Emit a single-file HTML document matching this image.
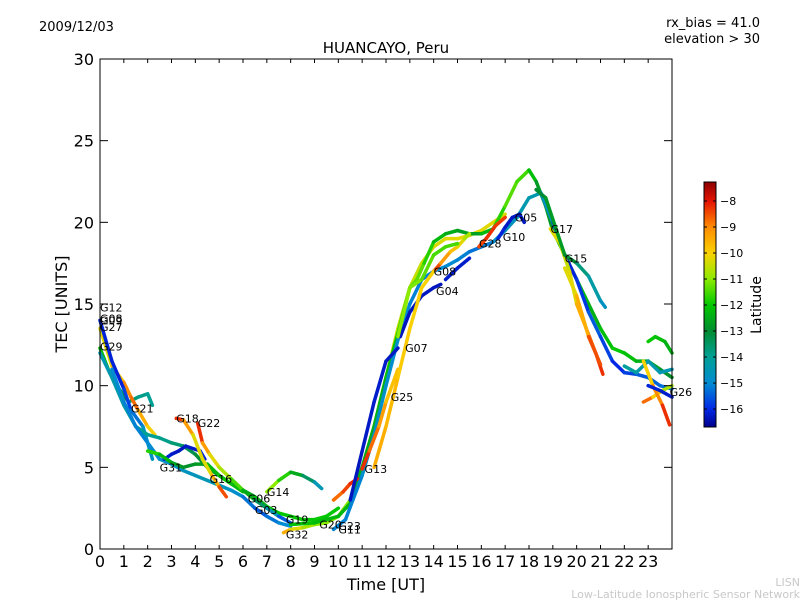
<!DOCTYPE html>
<html><head><meta charset="utf-8"><style>
body{margin:0;background:#fff;}
svg{display:block;font-family:"DejaVu Sans","Liberation Sans",sans-serif;}
</style></head><body>
<svg id="chart" width="800" height="600" viewBox="0 0 800 600" xmlns="http://www.w3.org/2000/svg">
<rect width="800" height="600" fill="#fff"/>
<text x="39" y="31" font-size="13">2009/12/03</text>
<text x="760" y="27" font-size="13" text-anchor="end">rx_bias = 41.0</text>
<text x="760" y="43" font-size="13" text-anchor="end">elevation &gt; 30</text>
<text x="386" y="53" font-size="15" text-anchor="middle">HUANCAYO, Peru</text>
<text x="386" y="590" font-size="16" text-anchor="middle">Time [UT]</text>
<text x="67" y="304" font-size="16" text-anchor="middle" transform="rotate(-90 67 304)">TEC [UNITS]</text>
<text x="800" y="586" font-size="11" fill="#c8c8c8" text-anchor="end">LISN</text>
<text x="800" y="598" font-size="11" fill="#c8c8c8" text-anchor="end">Low-Latitude Ionospheric Sensor Network</text>
<g id="marks"></g>
<g id="axes"></g>
<g id="cbar"></g>
</svg>
<script>
const xTicks=[0,1,2,3,4,5,6,7,8,9,10,11,12,13,14,15,16,17,18,19,20,21,22,23];
const yTicks=[0,5,10,15,20,25,30];
const cbTicks=[-8,-9,-10,-11,-12,-13,-14,-15,-16];
const xMin=0,xMax=24,yMin=0,yMax=30,latMin=-16.69,latMax=-7.27;
const tracks=[
{t:[0,0.4,0.8,1.2,1.6,2.0,2.2],v:[12.3,10.8,9.8,9.0,9.3,9.5,8.8],l:[-12,-12.5,-13,-13.5,-13.8,-14,-14]},
{t:[0,0.5,1,1.3,1.6,2,2.3],v:[13.5,11.2,10.2,9.3,8.5,7.5,7],l:[-10.5,-10,-9.5,-8.5,-9,-10,-10]},
{t:[0,0.5,1,1.3,1.8,2.2],v:[14,11.5,9.8,8.5,7.5,5.5],l:[-16,-16.2,-16,-15.5,-15,-14.5]},
{t:[0,0.5,1,1.5,2,2.5,3,3.5,4,4.5,5,5.5,6,6.5,7,7.5,8,8.5,9,9.5,10],v:[12,10.5,8.8,7.5,7,6.8,6.5,6.3,5.8,5,4.5,4,3.6,3.2,2.6,2.2,2,1.8,1.8,2,2.5],l:[-14.5,-14.5,-14.2,-14,-14,-14,-13.8,-13.5,-13.2,-13,-13,-12.8,-12.5,-12.5,-12.3,-12,-12,-12,-12,-12,-12]},
{t:[0.5,1,1.5,2,2.5,3,3.5,4,4.5,5,5.5,6,6.5,7,7.5,8],v:[11,9,7.5,6.5,5.5,5.2,4.8,4.5,4.2,3.9,3.6,3.2,2.5,2,1.6,1.4],l:[-15,-15,-15.2,-15,-15,-14.8,-14.8,-14.5,-14.5,-14.5,-14.8,-15,-15.5,-15.5,-15,-15]},
{t:[2.7,3,3.3,3.6,4.2,4.4],v:[5.5,5.8,6,6.3,6,5.5],l:[-16,-16.2,-16.3,-16.3,-16.2,-16]},
{t:[2,2.5,3,3.5,4,4.5,5,5.5,6],v:[6,5.8,5.3,5,5.2,5.2,4.5,4,3.5],l:[-11.5,-12,-12.5,-12.8,-13,-12.5,-12,-12,-12.5]},
{t:[3.2,3.5,3.9,4.3,4.7,5,5.3],v:[8,7.9,7,5.5,4.5,3.8,3.2],l:[-8,-8.5,-10,-10.5,-10,-9,-8]},
{t:[4.1,4.3,4.6,5,5.5,6,6.5,7,7.5,8],v:[7.7,6.5,5.8,5,4.3,3.6,3,2.5,2,1.6],l:[-8,-8.5,-10,-10.5,-11,-12,-13,-14,-15,-16]},
{t:[7,7.5,8,8.5,9,9.3],v:[3.5,4.2,4.7,4.5,4.1,3.7],l:[-10.5,-11.5,-12,-13,-14,-15]},
{t:[7.7,8,8.5,9,9.5,10,10.5,11,11.5,12,12.5,13,13.5,14,14.5,15,15.5,16,16.5,17],v:[1,1.2,1.3,1.5,1.6,2,3,5,7.5,10.5,13.5,16,17.5,18.5,19,19,19.2,19.5,20,20.5],l:[-9,-10,-10.5,-11,-11,-11,-11,-10.8,-10.5,-10.5,-10.5,-10.5,-10.5,-10.3,-10.3,-10.2,-10.2,-10.2,-10.3,-10.3]},
{t:[8,9,10,10.5,11,11.5,12,12.5,13,13.3,13.6,14,14.5,15,15.5,16,16.5,17,17.5,18,18.3,18.7,19,19.5,20,20.5,21,21.5,22,22.5,23,23.5,24],v:[1.5,1.6,2,2.8,5,7.5,10.5,13.2,16,16.5,17.5,18.8,19.3,19.5,19.3,19.3,19.6,21,22.5,23.2,22.5,21,19.5,18,16.5,15,13.5,12.3,12,11.5,11.5,11,10.5],l:[-12,-12.2,-12.3,-12.3,-12.5,-12.5,-12.3,-12,-11.5,-11.2,-11.5,-12,-12.5,-12.5,-12.8,-12.5,-12,-11.5,-11.3,-11.8,-12.5,-13,-12.5,-12,-12,-12.5,-12.3,-12,-12,-12.3,-12.5,-12.8,-13]},
{t:[9.8,10.3,11,11.5,12,12.5,13,13.5,14,14.5,15,15.5,16,16.5,17,17.5,18,18.5,19,19.5,20,20.5,21,21.5,22,22.5,23,23.5,24],v:[1.2,1.8,4.5,7,10,12.8,15,16.5,17,17.3,17.7,18.2,18.5,18.8,19.5,20.3,21.5,21.8,20,18,16.5,14.5,13,11.5,10.8,10.7,10.5,10,9.8],l:[-15,-15.2,-15,-14.8,-14.8,-15,-15,-15.2,-15,-15,-15,-15.2,-15.3,-15,-14.8,-14.5,-14.3,-14.5,-15,-16,-16.2,-15.5,-15.5,-16,-16,-15.5,-15.5,-15.3,-15.3]},
{t:[16.7,17,17.3,17.6,17.8],v:[19,19.7,20.3,20.5,20],l:[-16,-16.2,-16.3,-16.3,-16.2]},
{t:[15.9,16.2,16.6,17],v:[18.5,19,19.8,20.3],l:[-8.5,-8.3,-8.2,-8.5]},
{t:[12.6,13,13.5,14,14.3],v:[13,14.5,15.5,16,16.2],l:[-16.3,-16.3,-16.3,-16.3,-16.3]},
{t:[14,14.3,14.7,15,15.3,15.5],v:[17,17.5,18.2,18.5,19,19.3],l:[-8,-9,-9.5,-10,-10.5,-11]},
{t:[14.5,15,15.5],v:[16.5,17.2,17.8],l:[-16.2,-16.2,-16.2]},
{t:[18.9,19.3,19.7,20,20.4,20.8,21.1],v:[19.6,18.7,17,15,13.5,12,10.7],l:[-10,-10.5,-10.5,-10,-9,-8.5,-8]},
{t:[19.5,20,20.5,21],v:[17.2,15.5,13,11.3],l:[-10.5,-10,-9,-8]},
{t:[18.3,18.7,19.5,20,20.5,21,21.2],v:[22,21.5,18,17.5,16.7,15.2,14.8],l:[-13,-13,-12.5,-13.5,-14,-14.5,-15]},
{t:[23,23.3,23.7,24],v:[12.7,13,12.7,12],l:[-12,-12,-12.3,-12.5]},
{t:[22,22.5,23,23.5,24],v:[11.2,10.8,11.5,10.8,11],l:[-14,-14.2,-14.3,-14.5,-14.5]},
{t:[22.8,23.2,23.6,24],v:[9,9.3,9.7,10],l:[-8,-9.5,-10.5,-11]},
{t:[22.8,23.2,23.6,23.9],v:[11.5,10,8.8,7.6],l:[-10.5,-9.5,-8.5,-8]},
{t:[23,23.5,24],v:[10,9.7,9.3],l:[-16,-16.2,-16.2]},
{t:[9.8,10.2,10.5,10.8],v:[3,3.5,4,4.3],l:[-9,-8.5,-8.3,-8]},
{t:[11,11.3,11.7,12,12.5],v:[4.9,6,7.5,9,11],l:[-8,-8.5,-9,-9.5,-10]},
{t:[11.5,12,12.5,13,13.5,14],v:[5,7.5,10.5,13.5,16,17],l:[-9.5,-9.5,-9.8,-10,-10,-10]},
{t:[10.5,11,11.5,12,12.5],v:[3,6,9,11.5,12.3],l:[-16.3,-16.3,-16.2,-16.2,-16.3]},
{t:[12.5,13,13.5,14,14.5,15],v:[13,16,16.5,18,18.5,18.7],l:[-11,-11,-11.2,-11.5,-11.5,-11.5]}
];
const labelNames=["G12","G08","G09","G27","G29","G21","G18","G22","G31","G16","G06","G14","G03","G19","G32","G20","G23","G11","G13","G25","G07","G04","G08","G28","G10","G05","G17","G15","G26"];
const labelT=[0,0,0,0,0,1.3,3.2,4.1,2.5,4.6,6.2,7.0,6.5,7.8,7.8,9.2,10.0,10.0,11.1,12.2,12.8,14.1,14.0,15.9,16.9,17.4,18.9,19.5,23.9];
const labelV=[14.8,14.1,14.0,13.6,12.4,8.6,8.0,7.7,5.0,4.3,3.1,3.5,2.4,1.8,0.9,1.5,1.4,1.2,4.9,9.3,12.3,15.8,17.0,18.7,19.1,20.3,19.6,17.8,9.6];

const NS="http://www.w3.org/2000/svg";
const X0=100,X1=672,Y0=549,Y1=59;
const sx=t=>X0+(t-xMin)/(xMax-xMin)*(X1-X0);
const sy=v=>Y0-(v-yMin)/(yMax-yMin)*(Y0-Y1);
const CB0=427,CB1=182;
const sc=l=>CB0-(l-latMin)/(latMax-latMin)*(CB0-CB1);
const cmapStops=[[0,[0,0,140]],[0.073,[0,40,230]],[0.179,[0,140,210]],[0.285,[0,160,150]],[0.391,[0,140,50]],[0.497,[0,200,0]],[0.603,[140,235,0]],[0.709,[250,210,0]],[0.815,[255,140,0]],[0.92,[230,20,0]],[1,[140,0,0]]];
function cmap(f){f=Math.max(0,Math.min(1,f));
 for(let i=0;i<cmapStops.length-1;i++){const a=cmapStops[i],b=cmapStops[i+1];
  if(f<=b[0]){const u=(f-a[0])/(b[0]-a[0]);const c=a[1].map((v,k)=>Math.round(v+(b[1][k]-v)*u));return `rgb(${c[0]},${c[1]},${c[2]})`;}}
 return 'rgb(140,0,0)';}
const col=l=>cmap((l-latMin)/(latMax-latMin));
function mk(tag,attrs,parent){const e=document.createElementNS(NS,tag);for(const k in attrs)e.setAttribute(k,attrs[k]);parent.appendChild(e);return e;}
const marks=document.getElementById('marks');
tracks.forEach((tr,i)=>{
 const g=mk('g',{},marks);
 
 
 for(let j=0;j<tr.t.length-1;j++){
  const s=mk('line',{x1:sx(tr.t[j]),y1:sy(tr.v[j]),x2:sx(tr.t[j+1]),y2:sy(tr.v[j+1]),stroke:col((tr.l[j]+tr.l[j+1])/2),'stroke-width':3.5,'stroke-linecap':'round'},g);
  
  
 }
});
labelNames.forEach((n,i)=>{
 const t=mk('text',{x:sx(labelT[i]),y:sy(labelV[i])+4,'font-size':11},marks);
 t.textContent=n;
 
 
});
const ax=document.getElementById('axes');
const fr=mk('rect',{x:X0,y:Y1,width:X1-X0,height:Y0-Y1,fill:'none',stroke:'#000','stroke-width':1},ax);


xTicks.forEach(t=>{const x=sx(t);
 mk('line',{x1:x,y1:Y0,x2:x,y2:Y0-4,stroke:'#000'},ax);
 mk('line',{x1:x,y1:Y1,x2:x,y2:Y1+4,stroke:'#000'},ax);
 const tx=mk('text',{x:x,y:Y0+18,'font-size':16,'text-anchor':'middle'},ax);tx.textContent=t;
 
 
});
yTicks.forEach(v=>{const y=sy(v);
 mk('line',{x1:X0,y1:y,x2:X0+8,y2:y,stroke:'#000'},ax);
 mk('line',{x1:X1,y1:y,x2:X1-8,y2:y,stroke:'#000'},ax);
 const tx=mk('text',{x:X0-6,y:y+6,'font-size':16,'text-anchor':'end'},ax);tx.textContent=v;
 
 
});
const cb=document.getElementById('cbar');
const defs=mk('defs',{},cb);
const gr=mk('linearGradient',{id:'cmg',x1:0,y1:1,x2:0,y2:0},defs);
cmapStops.forEach(s=>mk('stop',{offset:s[0],'stop-color':`rgb(${s[1].join(',')})`},gr));
const cr=mk('rect',{x:704,y:CB1,width:12,height:CB0-CB1,fill:'url(#cmg)',stroke:'#000','stroke-width':1},cb);


cbTicks.forEach(l=>{const y=sc(l);
 mk('line',{x1:704,y1:y,x2:707,y2:y,stroke:'#000'},cb);
 mk('line',{x1:716,y1:y,x2:713,y2:y,stroke:'#000'},cb);
 const tx=mk('text',{x:720,y:y+4,'font-size':11},cb);tx.textContent='\u2212'+Math.abs(l);
 
 
});
const lt=mk('text',{x:761,y:305,'font-size':14,'text-anchor':'middle',transform:'rotate(-90 761 305)'},cb);
lt.textContent='Latitude';


</script>
</body></html>
